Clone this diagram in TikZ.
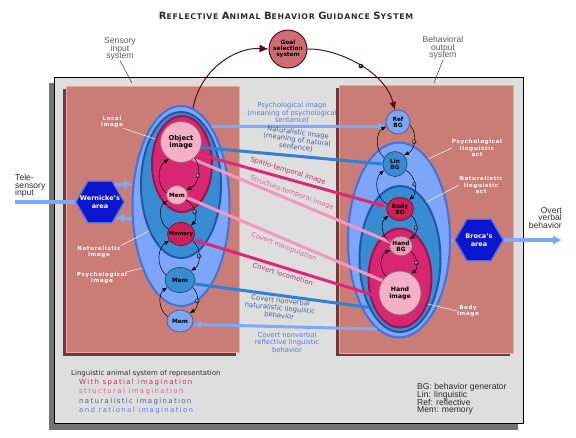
\documentclass[tikz,border=0pt]{standalone}
\usepackage{fontspec}
\setmainfont{DejaVu Sans}
\newfontfamily\arialfont{Liberation Sans}
\usetikzlibrary{shapes.geometric, arrows.meta, decorations.markings}

\definecolor{framegray}{RGB}{222,222,222}
\definecolor{frameshade}{RGB}{115,115,115}
\definecolor{panelfill}{RGB}{201,125,118}
\definecolor{panelshade}{RGB}{112,58,55}
\definecolor{panellight}{RGB}{230,168,160}
\definecolor{psy}{RGB}{125,165,248}
\definecolor{psyrim}{RGB}{70,112,222}
\definecolor{nat}{RGB}{58,140,210}
\definecolor{natrim}{RGB}{28,88,168}
\definecolor{mag}{RGB}{216,38,112}
\definecolor{magrim}{RGB}{150,22,78}
\definecolor{pale}{RGB}{244,176,198}
\definecolor{crimson}{RGB}{206,32,88}
\definecolor{rose}{RGB}{236,150,186}
\definecolor{goalfill}{RGB}{206,108,118}
\definecolor{arcred}{RGB}{88,14,20}
\definecolor{hexblue}{RGB}{12,22,206}
\definecolor{hexrim}{RGB}{80,110,235}
\definecolor{psyline}{RGB}{122,170,250}
\definecolor{natline}{RGB}{48,128,212}
\definecolor{magline}{RGB}{222,40,118}
\definecolor{strline}{RGB}{242,152,192}
\definecolor{txpsy}{RGB}{88,126,206}
\definecolor{txnat}{RGB}{66,96,158}
\definecolor{txspa}{RGB}{196,50,100}
\definecolor{txstr}{RGB}{226,96,152}
\definecolor{txrat}{RGB}{84,128,242}
\definecolor{labgray}{RGB}{92,92,92}
\definecolor{labdark}{RGB}{45,45,45}
\definecolor{pointer}{RGB}{110,70,70}
\lineskiplimit=-100pt
\newcommand\initcap[1]{{\fontsize{10}{11}\selectfont #1}}

\begin{document}
\begin{tikzpicture}[x=1pt, y=-1pt,
        every node/.style={inner sep=0pt, align=center},
        ring/.style={ellipse, fill=#1, draw=#1rim, line width=2pt},
        bubble/.style={ellipse, inner sep=-4pt, fill=#1, draw=#1!60!black, line width=0.8pt,
            font=\bfseries\fontsize{5.8}{6.3}\selectfont},
        hexa/.style={regular polygon, regular polygon sides=6, minimum size=48pt,
            fill=hexblue, draw=hexrim, line width=1.2pt},
        hextext/.style={text=white, font=\bfseries\fontsize{6.5}{7.6}\selectfont},
        flow/.style={line width=3pt, -{Latex[length=8pt, width=8pt]}},
        wire/.style={line width=3pt},
        tag/.style={text=white, font=\bfseries\fontsize{5.5}{6.6}\selectfont\addfontfeatures{LetterSpace=12}},
        tagline/.style={white, line width=0.5pt},
        midtext/.style={font=\fontsize{6.8}{7.5}\selectfont},
        side/.style={font=\arialfont\fontsize{8.6}{7.6}\selectfont},
        dotmid/.style={postaction={decorate, decoration={markings,
            mark=at position 0.5 with {\shade[ball color=#1] (0,0) circle (2.3pt);}}}},
        backarc/.style={black, line width=0.5pt, -{Latex[length=5pt, width=4pt]}, bend left=55},
        fwdarc/.style={backarc, dotmid=gray!55!black}
    ]
    \useasboundingbox (0,0) rectangle (576,437);

    % frame and the two panels
    \fill[frameshade] (49,83) rectangle (518,430);
    \draw[fill=framegray, line width=0.6pt] (54,77) rectangle (523,423);
    \fill[panelshade] (63,89) rectangle (236,356);
    \draw[fill=panelfill, draw=panellight, line width=1pt] (66,86) rectangle (239,352);
    \fill[panelshade] (336,88) rectangle (510,356);
    \draw[fill=panelfill, draw=panellight, line width=1pt] (339,85) rectangle (513,353);

    \node[text=labdark] (title) at (286,16) {\bfseries\fontsize{7.8}{9}\selectfont\addfontfeatures{LetterSpace=9}%
        \initcap{R}EFLECTIVE \initcap{A}NIMAL \initcap{B}EHAVIOR \initcap{G}UIDANCE \initcap{S}YSTEM};

    % sensory side
    \node[ring=psy, minimum width=97pt, minimum height=200pt] (lpsy) at (181,206) {};
    \node[ring=nat, minimum width=80pt, minimum height=146pt] (lnat) at (181,185) {};
    \node[ring=mag, minimum width=60pt, minimum height=96pt] (lmag) at (182,164) {};
    \node[bubble=pale, minimum size=41pt, font=\bfseries\fontsize{6.8}{7.4}\selectfont] (obj) at (181,142) {Object\\image};
    \node[bubble=pale, minimum width=21pt, minimum height=19pt] (mem1) at (177,195) {Mem};
    \node[bubble=crimson, minimum width=27pt, minimum height=23pt, font=\bfseries\fontsize{5.3}{6}\selectfont] (memory) at (181,234) {Memory};
    \node[bubble=nat, minimum width=30pt, minimum height=25pt] (mem2) at (180,280) {Mem};
    \node[bubble=psy, minimum width=26pt, minimum height=22pt] (mem3) at (180,321) {Mem};

    % output side
    \node[ring=psy, minimum width=102pt, minimum height=195pt] (rpsy) at (399,240) {};
    \node[ring=nat, minimum width=81pt, minimum height=146pt] (rnat) at (400,259) {};
    \node[ring=mag, minimum width=63pt, minimum height=99pt] (rmag) at (400,278) {};
    \node[bubble=psy, minimum size=24pt] (ref) at (398,122) {Ref\\BG};
    \node[bubble=nat, minimum width=24pt, minimum height=25pt] (lin) at (395,164) {Lin\\BG};
    \node[bubble=crimson, minimum width=27pt, minimum height=23pt] (body) at (400,209) {Body\\BG};
    \node[bubble=rose, minimum width=23pt, minimum height=20pt] (handbg) at (401,246) {Hand\\BG};
    \node[bubble=pale, minimum width=42pt, minimum height=44pt, font=\bfseries\fontsize{6.2}{6.9}\selectfont] (handimg) at (400,293) {Hand\\image};

    \node[bubble=goalfill, draw=arcred, line width=1pt, minimum size=38pt] (goal) at (288,49) {Goal\\selection\\system};

    \node[hexa] (wern) at (100,202) {};
    \node[hextext] (werntext) at (wern) {Wernicke's\\area};
    \node[hexa] (broca) at (479,240) {};
    \node[hextext] (brocatext) at (broca) {Broca's\\area};

    % goal loop
    \draw[arcred, line width=1pt, -{Latex[length=9pt, width=8pt]}] (lpsy.83) .. controls (200,70) and (235,47) .. (goal.west);
    \draw[arcred, line width=1pt, -{Latex[length=8pt, width=7pt]}, dotmid=black] (goal.east) .. controls (335,48) and (385,70) .. (ref.105);

    % outside world
    \coordinate (tele) at (15,202);
    \coordinate (overt) at (562,240);
    \draw[psyline, line width=3.5pt] (tele) -- (wern.west);
    \draw[psyline, line width=3.5pt, -{Latex[length=9pt, width=10pt]}] (wern.50) -- (lpsy.156);
    \draw[psyline, line width=3.5pt, -{Latex[length=9pt, width=10pt]}] (lpsy.195) -- (wern.-45);
    \draw[psyline, line width=3pt] (rpsy.east) -- (broca.west);
    \draw[psyline, line width=3.5pt, -{Latex[length=9pt, width=10pt]}] (broca.east) -- (overt);

    % links between the two sides
    \draw[flow, psyline] (lpsy.69) -- (ref.200);
    \draw[wire, natline] (obj.-15) -- (lin.west);
    \draw[flow, magline] (obj.-35) -- (body.170);
    \draw[wire, strline] (obj.-55) -- (handbg.160);
    \draw[wire, strline] (mem1.-15) -- (handimg.145);
    \draw[flow, magline] (handimg.190) -- (memory.-25);
    \draw[wire, natline] (mem2.-15) -- (rnat.237);
    \draw[flow, psyline] (rpsy.256) -- (mem3.-15);

    % feedback loops
    \draw[fwdarc] (obj.-50) to (mem1.30);
    \draw[backarc] (mem1.170) to (obj.235);
    \draw[fwdarc] (mem1.-30) to (memory.40);
    \draw[backarc] (memory.160) to (mem1.210);
    \draw[fwdarc] (memory.-30) to (mem2.40);
    \draw[backarc] (mem2.160) to (memory.210);
    \draw[fwdarc] (mem2.-30) to (mem3.40);
    \draw[backarc] (mem3.160) to (mem2.210);
    \draw[fwdarc] (ref.-15) to (lin.45);
    \draw[backarc] (lin.150) to (ref.200);
    \draw[fwdarc] (lin.-30) to (body.45);
    \draw[backarc] (body.160) to (lin.210);
    \draw[fwdarc] (body.-30) to (handbg.40);
    \draw[backarc] (handbg.160) to (body.210);
    \draw[fwdarc] (handbg.-30) to (handimg.60);
    \draw[backarc] (handimg.130) to (handbg.200);

    % labels of the links
    \node[midtext, text=txpsy] (tpsyimg) at (292,113) {Psychological image\\(meaning of psychological\\sentence)};
    \node[midtext, text=txnat, rotate=-8] (tnatimg) at (297,140) {Naturalistic image\\(meaning of natural\\sentence)};
    \node[midtext, text=txspa, rotate=-17] (tspa) at (288,171) {Spatio-temporal image};
    \node[midtext, text=txstr, rotate=-20] (tstr) at (292,193) {Structuro-temporal image};
    \node[midtext, text=txstr, rotate=-21] (tman) at (284,247) {Covert manipulation};
    \node[midtext, text=txspa, rotate=-17] (tloco) at (283,274) {Covert locomotion};
    \node[midtext, text=txnat, rotate=-6] (tcnn) at (280,308) {Covert nonverbal\\naturalistic linguistic\\behavior};
    \node[midtext, text=txpsy] (tcnr) at (287,342) {Covert nonverbal\\reflective linguistic\\behavior};

    % labels inside the panels
    \node[tag] (tloc) at (112,122) {Local\\image};
    \draw[tagline] (tloc.south east) -- (lmag.137);
    \node[tag] (tnat) at (99,252) {Naturalistic\\image};
    \draw[tagline] (tnat.north east) -- (lnat.235);
    \node[tag] (tpsy) at (102,278) {Psychological\\image};
    \draw[tagline] (tpsy.north east) -- (lpsy.238);
    \node[tag] (tpla) at (477,148) {Psychological\\linguistic\\act};
    \draw[tagline] (tpla.west) -- (rpsy.70);
    \node[tag] (tnla) at (481,185) {Naturalistic\\linguistic\\act};
    \draw[tagline] (tnla.west) -- (rnat.65);
    \node[tag] (tbody) at (468,311) {Body\\image};
    \draw[tagline] (tbody.west) -- (rmag.-43);

    % labels outside the panels
    \node[side, text=labgray] (sis) at (120,49) {Sensory\\input\\system};
    \coordinate (sisend) at (132,83);
    \draw[pointer, line width=0.6pt] (sis.south) -- (sisend);
    \node[side, text=labgray] (bos) at (443,48) {Behavioral\\output\\system};
    \coordinate (bosend) at (434,83);
    \draw[pointer, line width=0.6pt] (bos.south) -- (bosend);
    \node[side, text=labdark, align=left, anchor=west] (tsi) at (15,186) {Tele-\\sensory\\input};
    \node[side, text=labdark, align=right, anchor=east] (ovb) at (562,218) {Overt\\verbal\\behavior};

    % legends
    \node[anchor=west, align=left, text=labdark, font=\fontsize{7}{9.2}\selectfont] (legend) at (71,392)
        {Linguistic animal system of representation\\
        \hspace*{8pt}{\addfontfeatures{LetterSpace=19}\color{txspa}With spatial imagination}\\
        \hspace*{8pt}{\addfontfeatures{LetterSpace=19}\color{txstr}structural imagination}\\
        \hspace*{8pt}{\addfontfeatures{LetterSpace=19}\color{txnat}naturalistic imagination}\\
        \hspace*{8pt}{\addfontfeatures{LetterSpace=19}\color{txrat}and rational imagination}};
    \node[anchor=west, align=left, text=labdark, font=\arialfont\fontsize{8.6}{7.7}\selectfont] (abbr) at (417,399)
        {BG: behavior generator\\Lin: linguistic\\Ref: reflective\\Mem: memory};
\end{tikzpicture}
\end{document}
